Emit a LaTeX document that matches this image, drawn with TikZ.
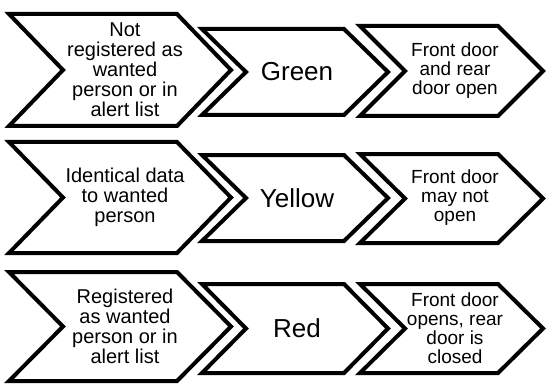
\documentclass[tikz,border=0pt]{standalone}
\usepackage{fontspec}
\setmainfont{Liberation Sans}

% chevron: left x, tip x, centre y, half height, depth
\newcommand{\chevron}[5]{%
  \draw[chevline] (#1,#3-#4) -- (#2-#5,#3-#4) -- (#2,#3) -- (#2-#5,#3+#4)
    -- (#1,#3+#4) -- (#1+#5,#3) -- cycle;}

\begin{document}
\begin{tikzpicture}[x=1pt,y=-1pt,
  chevline/.style={line width=4pt,miter limit=10},
  cond/.style={align=center,inner sep=0pt,font=\fontsize{20}{20}\selectfont},
  light/.style={align=center,inner sep=0pt,font=\fontsize{26}{26}\selectfont},
  act/.style={align=center,inner sep=0pt,font=\fontsize{19}{19}\selectfont}]
\useasboundingbox (0,0) rectangle (546,385);
% row 1
\chevron{9}{231}{70}{56}{54}
\chevron{202}{388}{72}{43}{44}
\chevron{360}{543}{71}{45}{45}
\node [cond] (c1) at (125,70) {Not\\registered as\\wanted\\person or in\\alert list};
\node [light] (g) at (297,72) {Green};
\node [act] (a1) at (455,71) {Front door\\and rear\\door open};
% row 2
\chevron{9}{231}{197.5}{55.5}{54}
\chevron{202}{388}{198}{43}{44}
\chevron{360}{543}{198.5}{44.5}{45}
\node [cond] (c2) at (125,197) {Identical data\\to wanted\\person};
\node [light] (y) at (297,198) {Yellow};
\node [act] (a2) at (455,198) {Front door\\may not\\open};
% row 3
\chevron{9}{231}{326.5}{54.5}{54}
\chevron{202}{388}{328.5}{44.5}{44}
\chevron{360}{543}{328.5}{44.5}{45}
\node [cond] (c3) at (125,326) {Registered\\as wanted\\person or in\\alert list};
\node [light] (r) at (297,328) {Red};
\node [act] (a3) at (455,328) {Front door\\opens, rear\\door is\\closed};
\end{tikzpicture}
\end{document}
